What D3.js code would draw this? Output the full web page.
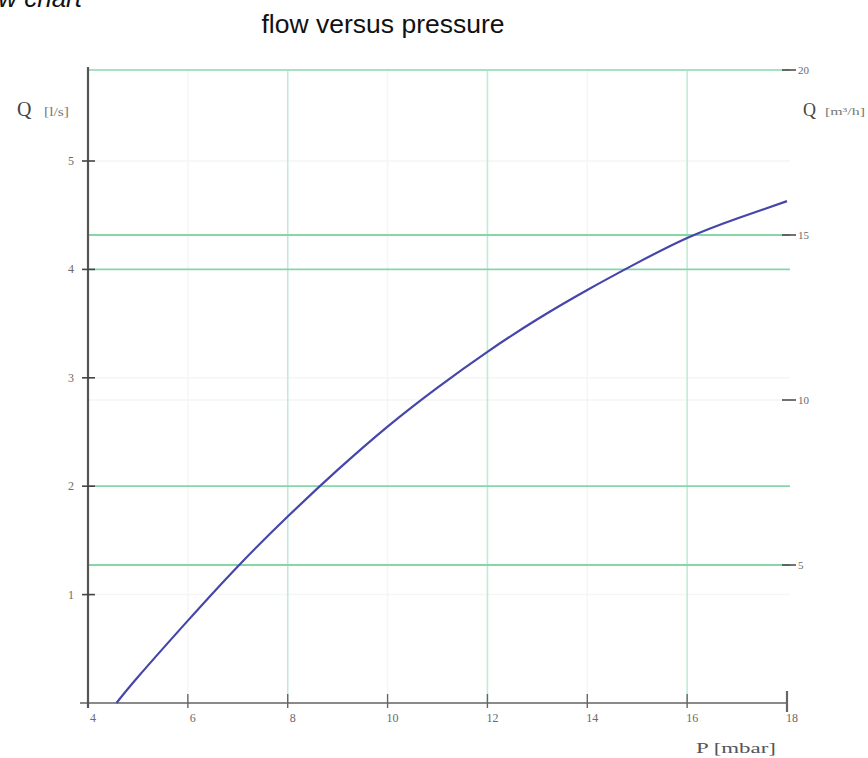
<!DOCTYPE html>
<html>
<head>
<meta charset="utf-8">
<script src="https://cdn.jsdelivr.net/npm/d3@7"></script>
<style>
  html, body { margin: 0; padding: 0; background: #fff; }
  svg { display: block; }
</style>
</head>
<body>
<svg id="chart" width="868" height="758"></svg>
<script>
// ---- data ----
const pressure = [4.57, 5, 6, 7, 8, 9, 10, 11, 12, 13, 14, 15, 16, 17, 18];
const flowLs   = [0, 0.24, 0.76, 1.26, 1.72, 2.15, 2.55, 2.91, 3.24, 3.54, 3.81, 4.06, 4.29, 4.47, 4.63];
const xTicks = [4, 6, 8, 10, 12, 14, 16, 18];
const yLeftTicks = [1, 2, 3, 4, 5];
const yRightTicks = [5, 10, 15, 20];
const xGridStrong = [8, 12, 16];
const xGridFaint = [6, 10, 14];
const yLeftGridStrong = [2, 4];
const yLeftGridFaint = [1, 3, 5];
const yRightGridStrong = [5, 15, 20];
const yRightGridFaint = [10];

const svg = d3.select("#chart");

const x = d3.scaleLinear().domain([4, 18]).range([88, 787]);
const yL = d3.scaleLinear().domain([0, 5]).range([703, 161]);
const yR = d3.scaleLinear().domain([5, 20]).range([565, 70]);

const gridLeft = 88, gridRight = 790, gridTop = 70, gridBottom = 703;
const serif = "Liberation Serif, DejaVu Serif, serif";

// faint grid
const g = svg.append("g");
g.selectAll(".xf").data(xGridFaint).join("line")
  .attr("x1", d => x(d)).attr("x2", d => x(d))
  .attr("y1", gridTop).attr("y2", gridBottom)
  .attr("stroke", "#f3f6f4").attr("stroke-width", 1.5);
g.selectAll(".ylf").data(yLeftGridFaint).join("line")
  .attr("x1", gridLeft).attr("x2", gridRight)
  .attr("y1", d => yL(d)).attr("y2", d => yL(d))
  .attr("stroke", "#f3f6f4").attr("stroke-width", 1.5);
g.selectAll(".yrf").data(yRightGridFaint).join("line")
  .attr("x1", gridLeft).attr("x2", gridRight)
  .attr("y1", d => yR(d)).attr("y2", d => yR(d))
  .attr("stroke", "#f3f6f4").attr("stroke-width", 1.5);

// strong grid
g.selectAll(".xs").data(xGridStrong).join("line")
  .attr("x1", d => x(d)).attr("x2", d => x(d))
  .attr("y1", gridTop).attr("y2", gridBottom)
  .attr("stroke", "#c2ebd5").attr("stroke-width", 1.6);
g.selectAll(".yls").data(yLeftGridStrong).join("line")
  .attr("x1", gridLeft).attr("x2", gridRight)
  .attr("y1", d => yL(d)).attr("y2", d => yL(d))
  .attr("stroke", "#86d6aa").attr("stroke-width", 1.8);
g.selectAll(".yrs").data(yRightGridStrong).join("line")
  .attr("x1", gridLeft).attr("x2", gridRight)
  .attr("y1", d => yR(d)).attr("y2", d => yR(d))
  .attr("stroke", d => d === 20 ? "#a6e2c0" : "#86d6aa").attr("stroke-width", 1.8);

// bottom axis
svg.append("line").attr("x1", 80).attr("x2", x(18)).attr("y1", gridBottom).attr("y2", gridBottom)
  .attr("stroke", "#8a8a8a").attr("stroke-width", 2);
svg.selectAll(".xt").data(xTicks).join("line")
  .attr("x1", d => x(d)).attr("x2", d => x(d))
  .attr("y1", d => d === 18 ? 691 : 694).attr("y2", d => d === 18 ? 712 : 708)
  .attr("stroke", "#666").attr("stroke-width", d => d === 18 ? 2.2 : 1.4);
svg.selectAll(".xl").data(xTicks).join("text")
  .attr("x", d => x(d) + 5).attr("y", 722)
  .attr("text-anchor", "middle")
  .attr("font-family", serif)
  .attr("font-size", 12).attr("fill", "#6a6a6a")
  .text(d => d);

// left axis
svg.append("line").attr("x1", gridLeft).attr("x2", gridLeft).attr("y1", 67).attr("y2", 708)
  .attr("stroke", "#555").attr("stroke-width", 2.2);
svg.selectAll(".ylt").data(yLeftTicks).join("line")
  .attr("x1", 82).attr("x2", 95)
  .attr("y1", d => yL(d)).attr("y2", d => yL(d))
  .attr("stroke", "#444").attr("stroke-width", 1.6);
svg.selectAll(".yll").data(yLeftTicks).join("text")
  .attr("x", 74).attr("y", d => yL(d) + 4)
  .attr("text-anchor", "end")
  .attr("font-family", serif)
  .attr("font-size", 12).attr("fill", "#6a6a6a")
  .text(d => d);

// right ticks
svg.selectAll(".yrt").data(yRightTicks).join("line")
  .attr("x1", 782).attr("x2", 796)
  .attr("y1", d => yR(d)).attr("y2", d => yR(d))
  .attr("stroke", "#444").attr("stroke-width", 1.5);
svg.selectAll(".yrl").data(yRightTicks).join("text")
  .attr("x", 798).attr("y", d => yR(d) + 4)
  .attr("text-anchor", "start")
  .attr("font-family", serif)
  .attr("font-size", 11).attr("fill", "#6a6a6a")
  .text(d => d);

// curve
const line = d3.line().x((d, i) => x(pressure[i])).y(d => yL(d)).curve(d3.curveNatural);
svg.append("path").datum(flowLs)
  .attr("d", line)
  .attr("fill", "none").attr("stroke", "#4646aa").attr("stroke-width", 2.2);

// axis labels
svg.append("text").attr("x", 17).attr("y", 116)
  .attr("font-family", serif)
  .attr("font-size", 20).attr("fill", "#444").text("Q");
svg.append("text").attr("x", 44).attr("y", 116)
  .attr("font-family", serif)
  .attr("font-size", 12).attr("fill", "#777")
  .attr("textLength", 25).attr("lengthAdjust", "spacingAndGlyphs").text("[l/s]");
svg.append("text").attr("x", 803).attr("y", 116)
  .attr("font-family", serif)
  .attr("font-size", 18).attr("fill", "#444").text("Q");
svg.append("text").attr("x", 825).attr("y", 115)
  .attr("font-family", serif)
  .attr("font-size", 11).attr("fill", "#777")
  .attr("textLength", 40).attr("lengthAdjust", "spacingAndGlyphs").text("[m³/h]");
svg.append("text").attr("x", 696).attr("y", 753)
  .attr("font-family", serif)
  .attr("font-size", 15).attr("fill", "#555")
  .attr("textLength", 80).attr("lengthAdjust", "spacingAndGlyphs").text("P [mbar]");

// titles
svg.append("text").attr("x", 383).attr("y", 33).attr("text-anchor", "middle")
  .attr("font-family", "Liberation Sans, Arial, sans-serif")
  .attr("font-size", 25).attr("fill", "#111")
  .attr("textLength", 243).attr("lengthAdjust", "spacingAndGlyphs").text("flow versus pressure");
svg.append("text").attr("x", 82).attr("y", 7).attr("text-anchor", "end")
  .attr("font-family", "Liberation Sans, Arial, sans-serif").attr("font-style", "italic")
  .attr("font-size", 26).attr("fill", "#111").text("Flow chart");
</script>
</body>
</html>
